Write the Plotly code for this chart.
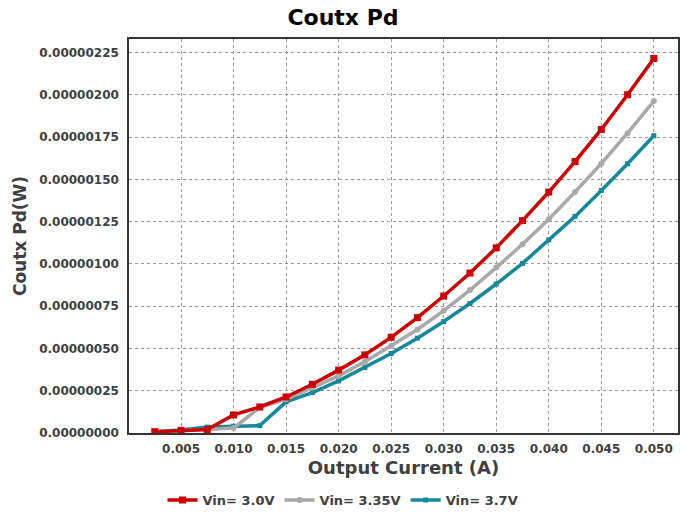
import plotly.graph_objects as go

current = [0.0025, 0.005, 0.0075, 0.010, 0.0125, 0.015, 0.0175, 0.020, 0.0225, 0.025,
           0.0275, 0.030, 0.0325, 0.035, 0.0375, 0.040, 0.0425, 0.045, 0.0475, 0.050]

vin_3v0 = [8e-9, 16e-9, 20e-9, 107e-9, 154e-9, 213e-9, 288e-9, 372e-9, 462e-9, 566e-9,
           682e-9, 810e-9, 946e-9, 1095e-9, 1256e-9, 1425e-9, 1605e-9, 1795e-9, 2000e-9, 2215e-9]
vin_3v35 = [5e-9, 12e-9, 18e-9, 30e-9, 150e-9, 200e-9, 268e-9, 338e-9, 422e-9, 514e-9,
            612e-9, 723e-9, 845e-9, 978e-9, 1116e-9, 1264e-9, 1425e-9, 1594e-9, 1773e-9, 1963e-9]
vin_3v7 = [8e-9, 18e-9, 35e-9, 40e-9, 44e-9, 184e-9, 239e-9, 308e-9, 387e-9, 470e-9,
           561e-9, 659e-9, 766e-9, 881e-9, 1003e-9, 1142e-9, 1281e-9, 1434e-9, 1592e-9, 1758e-9]

series_names = ["Vin= 3.0V", "Vin= 3.35V", "Vin= 3.7V"]
x_ticks = [0.005, 0.010, 0.015, 0.020, 0.025, 0.030, 0.035, 0.040, 0.045, 0.050]
y_ticks = [0, 0.25e-6, 0.5e-6, 0.75e-6, 1.0e-6, 1.25e-6, 1.5e-6, 1.75e-6, 2.0e-6, 2.25e-6]

FONT = "DejaVu Sans"
TXT = "#404040"

fig = go.Figure()
styles = [
    dict(color="#CC0000", symbol="square", size=7),
    dict(color="#A9A9A9", symbol="circle", size=6),
    dict(color="#17889A", symbol="square", size=5),
]
for name, ys, st in zip(series_names, [vin_3v0, vin_3v35, vin_3v7], styles):
    fig.add_trace(go.Scatter(
        x=current, y=ys, name=name, mode="lines+markers",
        line=dict(color=st["color"], width=3.5),
        marker=dict(color=st["color"], symbol=st["symbol"], size=st["size"]),
    ))

# draw order: teal first (bottom), red on top
fig.data = (fig.data[2], fig.data[1], fig.data[0])

fig.update_layout(
    width=686, height=514,
    paper_bgcolor="white", plot_bgcolor="white",
    margin=dict(l=129, r=8, t=39, b=81),
    title=dict(text="<b>Coutx Pd</b>", x=0.5, xref="container", xanchor="center",
               y=0.967, yref="container", yanchor="middle",
               font=dict(family=FONT, size=22, color="black")),
    showlegend=True,
    legend=dict(orientation="h", x=0.5, xanchor="center", xref="container",
                y=0.027, yanchor="middle", yref="container",
                traceorder="reversed",
                font=dict(family=FONT, size=13, color=TXT, weight="bold"),
                itemwidth=30, tracegroupgap=0),
)

fig.update_xaxes(
    range=[0.00005, 0.0523], tickvals=x_ticks, tickformat=".3f",
    showgrid=True, gridcolor="#9a9a9a", griddash="dot", gridwidth=1,
    showline=True, linecolor="#333333", linewidth=1.5, mirror=True,
    zeroline=False, ticks="", ticklabelstandoff=4, automargin=False,
    tickfont=dict(family=FONT, size=12, color=TXT, weight="bold"),
    title=dict(text="<b>Output Current (A)</b>", standoff=6,
               font=dict(family=FONT, size=18, color=TXT)),
)
fig.update_yaxes(
    range=[0, 2.33e-6], tickvals=y_ticks, tickformat=".8f",
    showgrid=True, gridcolor="#9a9a9a", griddash="dot", gridwidth=1,
    showline=True, linecolor="#333333", linewidth=1.5, mirror=True,
    zeroline=False, ticks="", ticklabelstandoff=6, automargin=False,
    tickfont=dict(family=FONT, size=12, color=TXT, weight="bold"),
    title=dict(text="<b>Coutx Pd(W)</b>", standoff=8,
               font=dict(family=FONT, size=17, color=TXT)),
)

fig.write_html("out.html", config={"displayModeBar": False},
               post_script="document.body.style.margin='0';")
